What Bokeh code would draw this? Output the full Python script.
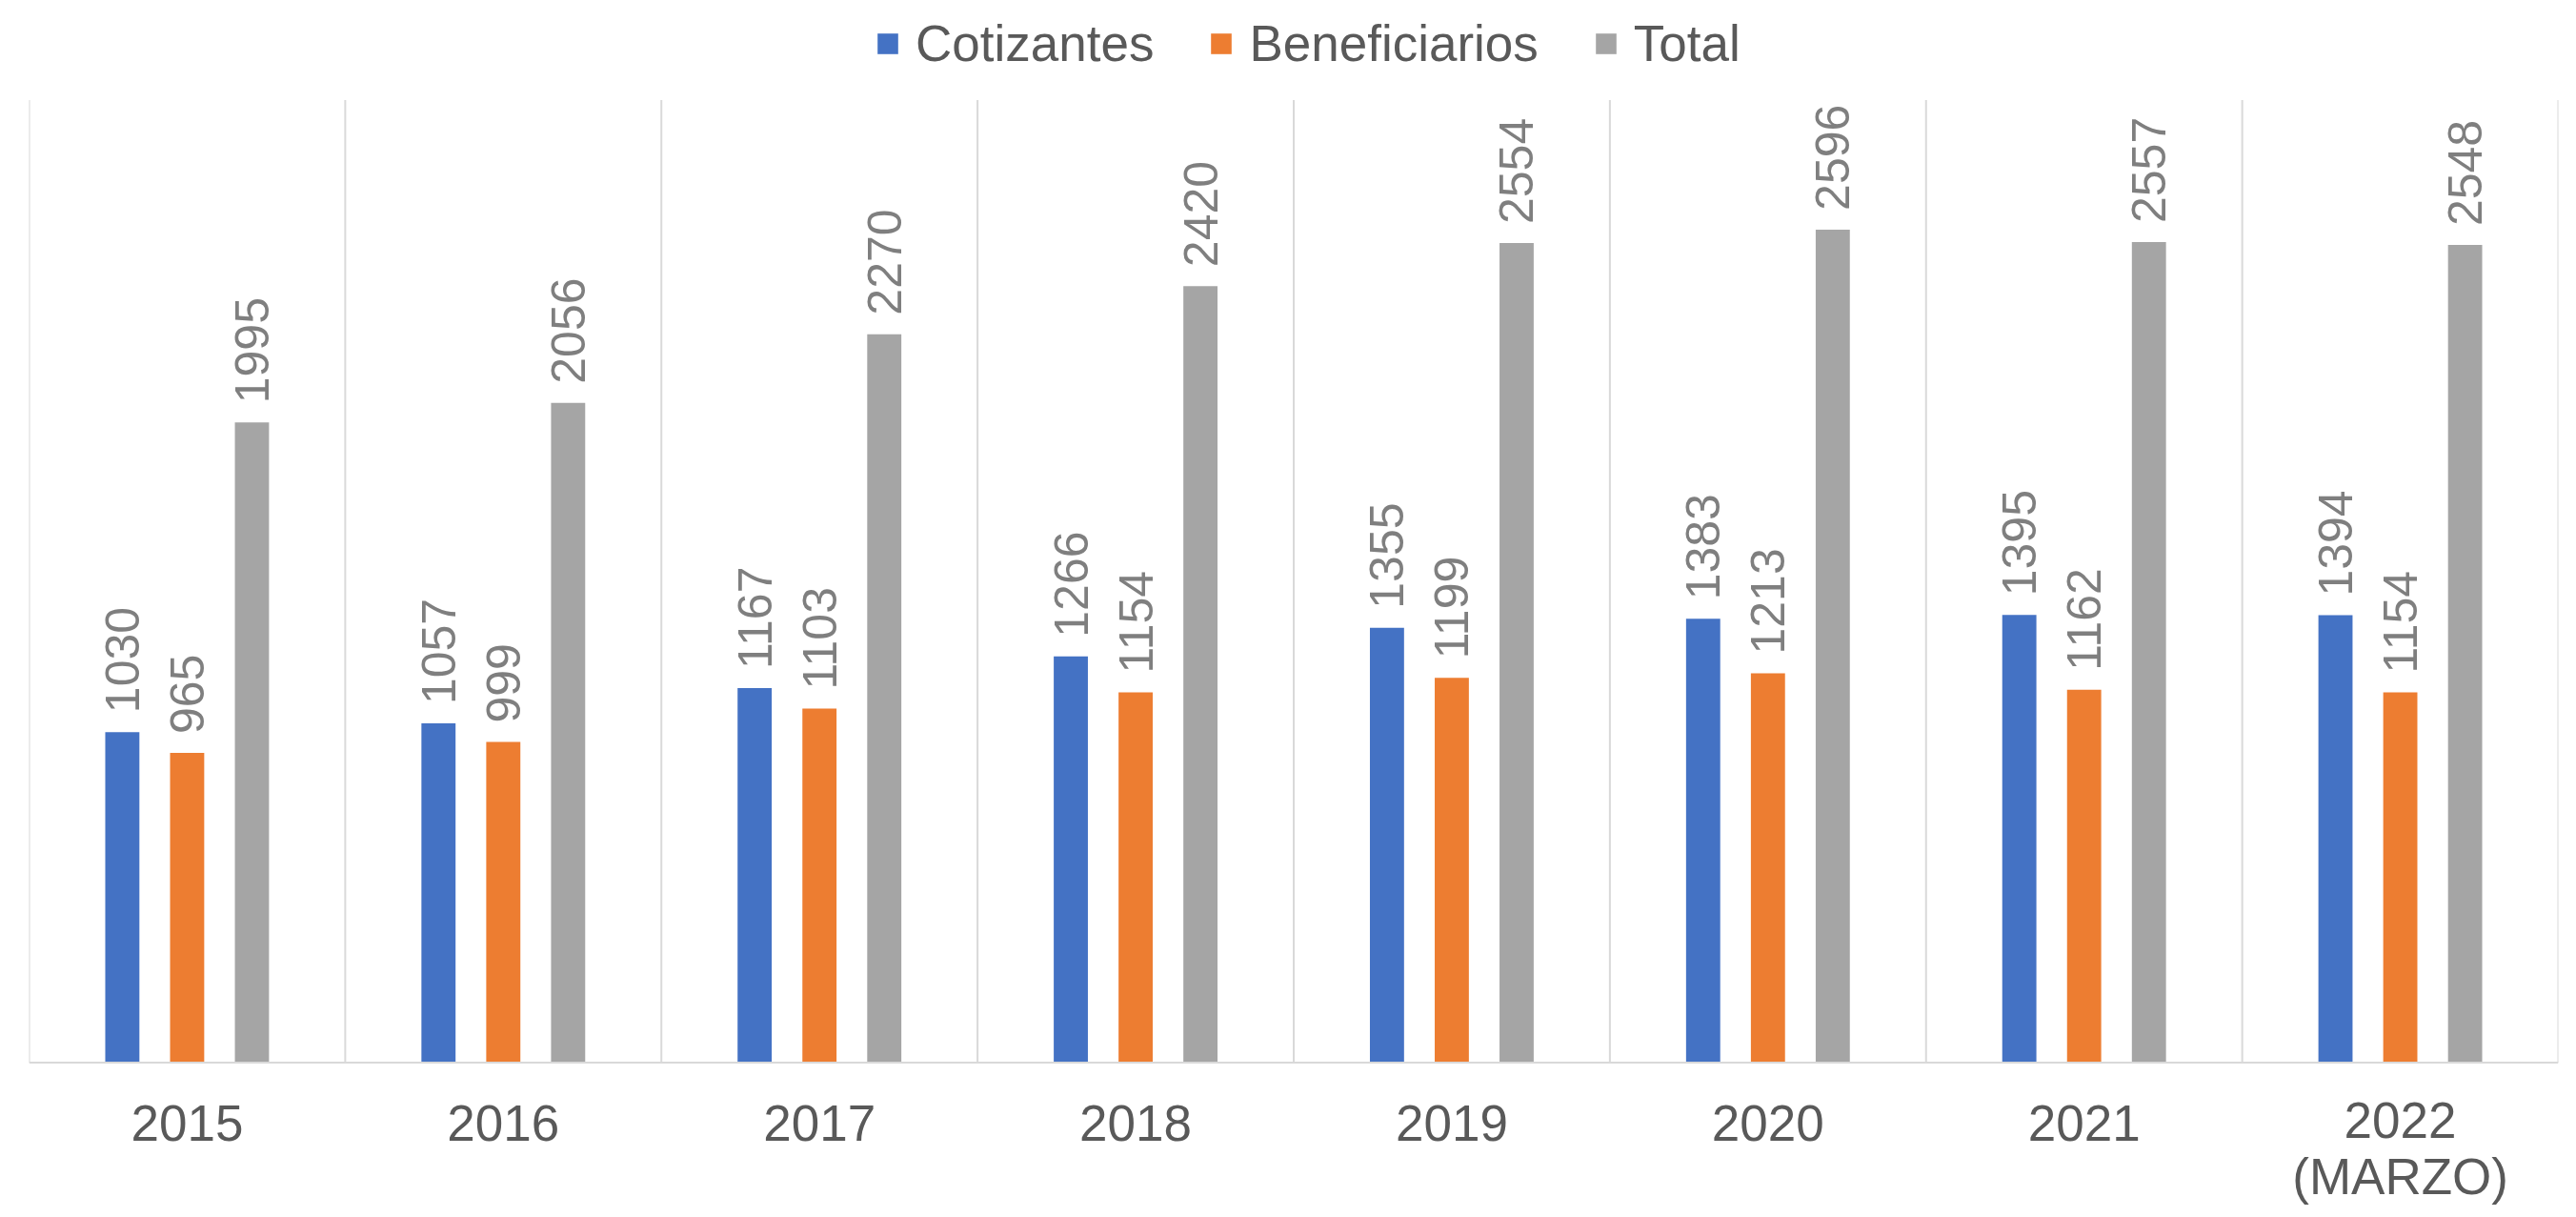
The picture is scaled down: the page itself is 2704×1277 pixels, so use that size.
import math
from bokeh.plotting import figure
from bokeh.models import ColumnDataSource, FactorRange, Range1d, Legend, LegendItem, Span
from bokeh.transform import dodge
from bokeh.core.properties import value
from bokeh.embed import file_html
from bokeh.resources import INLINE

years = ["2015", "2016", "2017", "2018", "2019", "2020", "2021", "2022\n(MARZO)"]
cotizantes = [1030, 1057, 1167, 1266, 1355, 1383, 1395, 1394]
beneficiarios = [965, 999, 1103, 1154, 1199, 1213, 1162, 1154]
total = [1995, 2056, 2270, 2420, 2554, 2596, 2557, 2548]

series_names = ["Cotizantes", "Beneficiarios", "Total"]
series_keys = ["cot", "ben", "tot"]
colors = ["#4472C4", "#ED7D31", "#A5A5A5"]
offsets = [-0.205, 0.0, 0.205]

AXIS_MAX = 3000          # top of the value axis (separator lines end here)
FONT = "Liberation Sans"

# label standoff below the axis line: multi-line labels are laid out a little lower by Bokeh
lab_dy = [31 if "\n" in y else 45 for y in years]

src = ColumnDataSource(dict(
    year=years, cot=cotizantes, ben=beneficiarios, tot=total,
    cot_l=[str(v) for v in cotizantes],
    ben_l=[str(v) for v in beneficiarios],
    tot_l=[str(v) for v in total],
    lab_dy=lab_dy,
))

xr = FactorRange(*years, range_padding=0, factor_padding=0)
# the frame fills the whole height: legend above and category labels below live inside it
p = figure(x_range=xr, y_range=Range1d(-459, 3310), width=2696, height=1269,
           output_backend="svg", toolbar_location=None,
           min_border_left=30, min_border_right=11, min_border_top=0, min_border_bottom=0)

p.outline_line_color = None
p.background_fill_color = "white"
p.border_fill_color = "white"
p.grid.visible = False
p.xaxis.visible = False
p.yaxis.visible = False

# category separators
bounds = list(range(len(years) + 1))
p.segment(x0=bounds, y0=[0] * len(bounds), x1=bounds, y1=[AXIS_MAX] * len(bounds),
          line_color="#D9D9D9", line_width=2)

# category axis line at value 0
p.add_layout(Span(location=0, dimension="width", line_color="#D9D9D9", line_width=2))

# category labels under the axis line
p.text(x="year", y=0, text="year", source=src, y_offset="lab_dy",
       text_align="center", text_baseline="top", text_line_height=1.0,
       text_font=value(FONT), text_font_size="53px", text_color="#595959")

items = []
for key, name, col, off in zip(series_keys, series_names, colors, offsets):
    r = p.vbar(x=dodge("year", off, range=p.x_range), top=key, width=0.108,
               source=src, fill_color=col, line_color=None)
    items.append(LegendItem(label=name, renderers=[r]))
    p.text(x=dodge("year", off, range=p.x_range), y=key, text=key + "_l", source=src,
           angle=math.pi / 2, text_align="left", text_baseline="middle",
           y_offset=-20, text_font=value(FONT), text_font_size="50px",
           text_color="#7F7F7F")

legend = Legend(items=items, orientation="horizontal", location=(888, 1193),
                padding=0, margin=0, spacing=57, label_standoff=16,
                glyph_width=27, glyph_height=27,
                label_text_font=FONT, label_text_font_size="53px",
                label_text_color="#595959",
                border_line_color=None, background_fill_alpha=0)
p.add_layout(legend, "center")

open("out.html", "w").write(file_html(p, INLINE))
